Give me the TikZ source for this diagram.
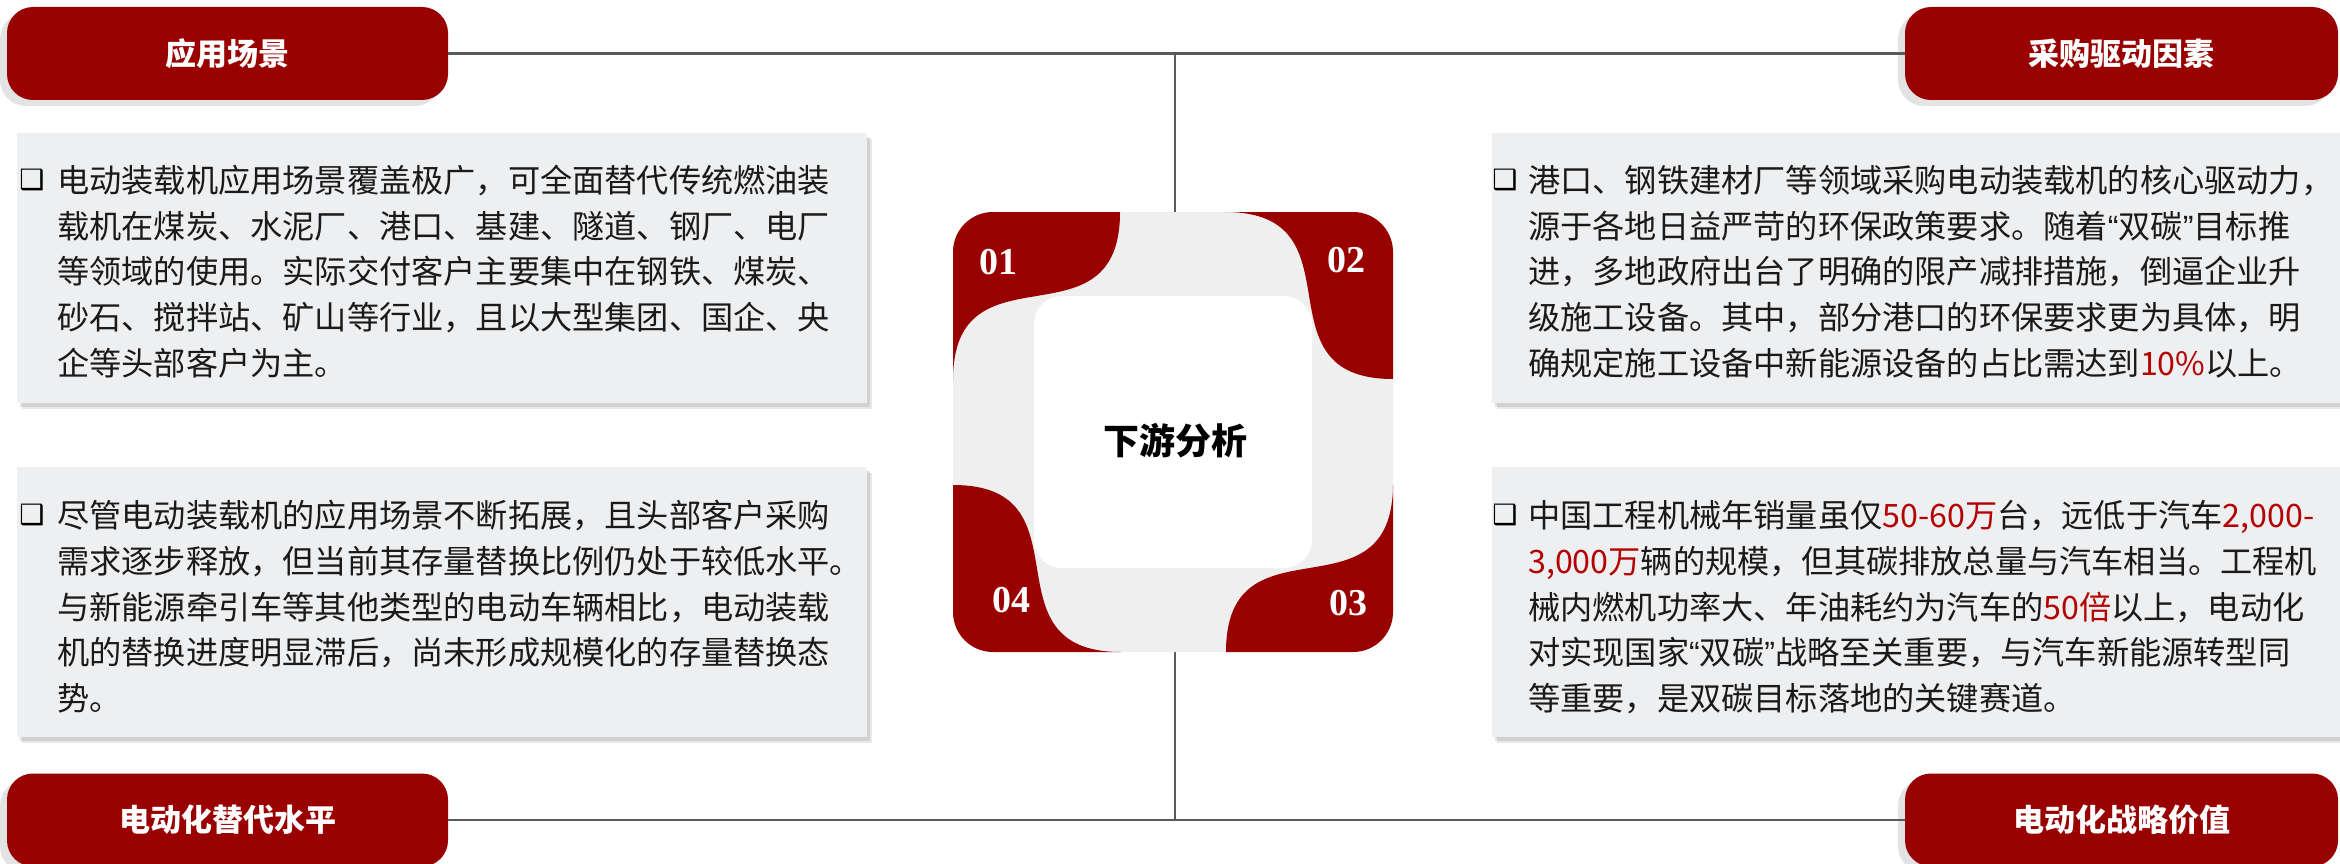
\documentclass[tikz,border=0pt]{standalone}
\usepackage{fontspec}
\setmainfont{Noto Sans CJK SC}
\newfontfamily\numfont{Liberation Serif}
\newfontfamily\symfont{DejaVu Sans}
\newfontfamily\quotefont{Liberation Sans}
\usetikzlibrary{shadows}
\definecolor{tabred}{RGB}{153,0,0}
\definecolor{boxgray}{RGB}{238,239,241}
\definecolor{ringgray}{RGB}{239,239,239}
\definecolor{linegray}{RGB}{90,90,90}
\definecolor{hlred}{RGB}{180,0,0}
\definecolor{bodytext}{RGB}{26,26,26}
\newcommand{\redtxt}[1]{\textcolor{hlred}{#1}}
\newcommand{\dq}[1]{{\quotefont “}#1{\quotefont ”}}
\tikzset{tab/.style = {fill=tabred, rounded corners=26, text=white, minimum height=93,
                       font=\fontsize{31}{37}\selectfont\bfseries,
                       drop shadow={shadow xshift=-7pt, shadow yshift=-6pt, opacity=.22}}}
\tikzset{card/.style = {fill=boxgray, minimum height=270, inner sep=0,
                        drop shadow={shadow xshift=5pt, shadow yshift=-6pt, opacity=.18},
                        drop shadow={shadow xshift=3pt, shadow yshift=-4pt, opacity=.22}}}
\tikzset{body/.style = {anchor=base west, text width=790, align=left, inner sep=0,
                        text=bodytext, font=\fontsize{32.2}{45.75}\selectfont}}
\tikzset{bullet/.style = {inner sep=0, text=black, font=\symfont\fontsize{28}{28}\selectfont}}
\tikzset{num/.style = {text=white, font=\numfont\bfseries\fontsize{38}{38}\selectfont}}
\tikzset{link/.style = {draw=linegray, line width=2.5}}

\begin{document}
\begin{tikzpicture}[x=1pt, y=-1pt]
  \useasboundingbox (0,0) rectangle (2340,864);

  \node [tab, minimum width=441] (tabA) at (227.5,53.5) {应用场景};
  \node [tab, minimum width=433] (tabB) at (2121.5,53.5) {采购驱动因素};
  \node [tab, minimum width=433] (tabC) at (2121.5,820) {电动化战略价值};
  \node [tab, minimum width=441] (tabD) at (227.5,820) {电动化替代水平};

  \coordinate (topmid) at (1175,53.5);
  \coordinate (botmid) at (1175,820);
  \draw [link] (tabA.east) -- (tabB.west);
  \draw [link] (tabD.east) -- (tabC.west);
  \draw [link] (topmid) -- (botmid);

  \begin{scope}[shift={(1173,432)}]
    \fill [ringgray, rounded corners=40] (-220,-220) rectangle (220,220);
    \begin{scope}
      \clip [rounded corners=40] (-220,-220) rectangle (220,220);
      \foreach \ang in {0,-90,180,90}
        \fill [tabred, rotate=\ang] (-53,-240) -- (-53,-220)
          .. controls (-53,-80) and (-220,-192) .. (-220,-52)
          -- (-240,-52) -- (-240,-240) -- cycle;
    \end{scope}
    \fill [white, rounded corners=28] (-139,-136) rectangle (139,136);
  \end{scope}
  \node [font=\fontsize{36}{36}\selectfont\bfseries] (hub) at (1175,441) {下游分析};
  \node [num] (n1) at (998,262) {01};
  \node [num] (n2) at (1346,260) {02};
  \node [num] (n3) at (1348,603) {03};
  \node [num] (n4) at (1011,600) {04};

  \node [card, minimum width=850] (boxA) at (442,268) {};
  \node [card, minimum width=848] (boxB) at (1916,268) {};
  \node [card, minimum width=848] (boxC) at (1916,602) {};
  \node [card, minimum width=850] (boxD) at (442,602) {};

  \node [bullet] (bA) at (32,180) {❑};
  \node [bullet] (bB) at (1505,180) {❑};
  \node [bullet] (bC) at (1505,515) {❑};
  \node [bullet] (bD) at (32,515) {❑};

  \node [body] (tA) at (57,192.5) {电动装载机应用场景覆盖极广，可全面替代传统燃油装\\
    载机在煤炭、水泥厂、港口、基建、隧道、钢厂、电厂\\
    等领域的使用。实际交付客户主要集中在钢铁、煤炭、\\
    砂石、搅拌站、矿山等行业，且以大型集团、国企、央\\
    企等头部客户为主。};
  \node [body] (tB) at (1528,192.5) {港口、钢铁建材厂等领域采购电动装载机的核心驱动力，\\
    源于各地日益严苛的环保政策要求。随着\dq{双碳}目标推\\
    进，多地政府出台了明确的限产减排措施，倒逼企业升\\
    级施工设备。其中，部分港口的环保要求更为具体，明\\
    确规定施工设备中新能源设备的占比需达到\redtxt{10\%}以上。};
  \node [body] (tC) at (1528,527.5) {中国工程机械年销量虽仅\redtxt{50-60万}台，远低于汽车\redtxt{2,000-}\\
    \redtxt{3,000万}辆的规模，但其碳排放总量与汽车相当。工程机\\
    械内燃机功率大、年油耗约为汽车的\redtxt{50倍}以上，电动化\\
    对实现国家\dq{双碳}战略至关重要，与汽车新能源转型同\\
    等重要，是双碳目标落地的关键赛道。};
  \node [body] (tD) at (57,527.5) {尽管电动装载机的应用场景不断拓展，且头部客户采购\\
    需求逐步释放，但当前其存量替换比例仍处于较低水平。\\
    与新能源牵引车等其他类型的电动车辆相比，电动装载\\
    机的替换进度明显滞后，尚未形成规模化的存量替换态\\
    势。};
\end{tikzpicture}
\end{document}
